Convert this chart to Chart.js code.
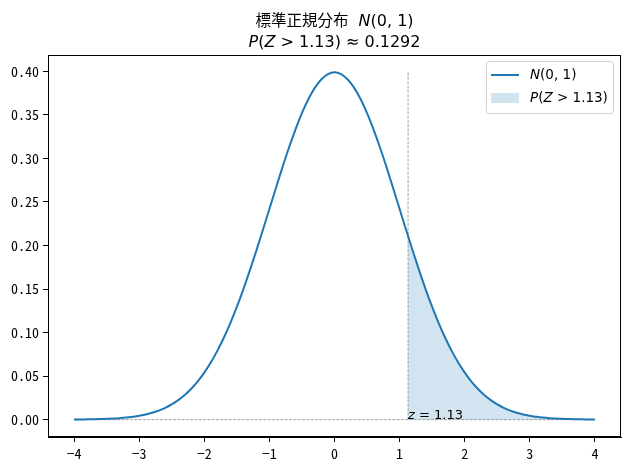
<!DOCTYPE html>
<html>
<head>
<meta charset="utf-8">
<script src="https://cdn.jsdelivr.net/npm/chart.js@4"></script>
<style>
  html, body { margin: 0; padding: 0; background: #fff; }
  #wrap { width: 630px; height: 470px; }
</style>
</head>
<body>
<div id="wrap"><canvas id="c" width="630" height="470"></canvas></div>
<script>
// standard normal pdf (0.1 steps)
const curveX = [-4, -3.9, -3.8, -3.7, -3.6, -3.5, -3.4, -3.3, -3.2, -3.1,
  -3, -2.9, -2.8, -2.7, -2.6, -2.5, -2.4, -2.3, -2.2, -2.1,
  -2, -1.9, -1.8, -1.7, -1.6, -1.5, -1.4, -1.3, -1.2, -1.1,
  -1, -0.9, -0.8, -0.7, -0.6, -0.5, -0.4, -0.3, -0.2, -0.1,
  0, 0.1, 0.2, 0.3, 0.4, 0.5, 0.6, 0.7, 0.8, 0.9,
  1, 1.1, 1.2, 1.3, 1.4, 1.5, 1.6, 1.7, 1.8, 1.9,
  2, 2.1, 2.2, 2.3, 2.4, 2.5, 2.6, 2.7, 2.8, 2.9,
  3, 3.1, 3.2, 3.3, 3.4, 3.5, 3.6, 3.7, 3.8, 3.9, 4];
const curveY = [0.0001, 0.0002, 0.0003, 0.0004, 0.0006, 0.0009, 0.0012, 0.0017, 0.0024, 0.0033,
  0.0044, 0.0060, 0.0079, 0.0104, 0.0136, 0.0175, 0.0224, 0.0283, 0.0355, 0.0440,
  0.0540, 0.0656, 0.0790, 0.0940, 0.1109, 0.1295, 0.1497, 0.1714, 0.1942, 0.2179,
  0.2420, 0.2661, 0.2897, 0.3123, 0.3332, 0.3521, 0.3683, 0.3814, 0.3910, 0.3970,
  0.3989, 0.3970, 0.3910, 0.3814, 0.3683, 0.3521, 0.3332, 0.3123, 0.2897, 0.2661,
  0.2420, 0.2179, 0.1942, 0.1714, 0.1497, 0.1295, 0.1109, 0.0940, 0.0790, 0.0656,
  0.0540, 0.0440, 0.0355, 0.0283, 0.0224, 0.0175, 0.0136, 0.0104, 0.0079, 0.0060,
  0.0044, 0.0033, 0.0024, 0.0017, 0.0012, 0.0009, 0.0006, 0.0004, 0.0003, 0.0002, 0.0001];

// shaded tail Z > 1.13
const zCut = 1.13;
const tailX = [1.13, 1.2, 1.3, 1.4, 1.5, 1.6, 1.7, 1.8, 1.9,
  2, 2.1, 2.2, 2.3, 2.4, 2.5, 2.6, 2.7, 2.8, 2.9,
  3, 3.1, 3.2, 3.3, 3.4, 3.5, 3.6, 3.7, 3.8, 3.9, 4];
const tailY = [0.2107, 0.1942, 0.1714, 0.1497, 0.1295, 0.1109, 0.0940, 0.0790, 0.0656,
  0.0540, 0.0440, 0.0355, 0.0283, 0.0224, 0.0175, 0.0136, 0.0104, 0.0079, 0.0060,
  0.0044, 0.0033, 0.0024, 0.0017, 0.0012, 0.0009, 0.0006, 0.0004, 0.0003, 0.0002, 0.0001];
const tailProb = '0.1292';

const xTicks = [-4, -3, -2, -1, 0, 1, 2, 3, 4];
const yTicks = [0, 0.05, 0.10, 0.15, 0.20, 0.25, 0.30, 0.35, 0.40];
const vlineTop = 0.40;

const blue = '#1f77b4';
const tickFont = "'Noto Sans Mono CJK JP', 'DejaVu Sans Mono', monospace";
const mathFont = "'DejaVu Sans', sans-serif";
const cjkFont = "'Noto Sans CJK JP', sans-serif";

const pts = (xs, ys) => xs.map((x, i) => ({x: x, y: ys[i]}));

// draw a run of [text, font] parts
function drawParts(ctx, parts, x, y, align) {
  let total = 0;
  parts.forEach(p => { ctx.font = p[1]; total += ctx.measureText(p[0]).width; });
  let cx = align === 'center' ? x - total / 2 : x;
  ctx.textAlign = 'left';
  parts.forEach(p => {
    ctx.font = p[1];
    ctx.fillText(p[0], cx, y);
    cx += ctx.measureText(p[0]).width;
  });
}

const decor = {
  id: 'decor',
  afterDraw(chart) {
    const ctx = chart.ctx;
    const a = chart.chartArea;
    const xs = chart.scales.x, ys = chart.scales.y;
    ctx.save();
    ctx.strokeStyle = '#000';
    ctx.lineWidth = 1;
    ctx.strokeRect(a.left + 0.5, a.top + 0.5, a.right - a.left - 1, a.bottom - a.top - 1);

    ctx.fillStyle = '#000';
    ctx.textBaseline = 'alphabetic';
    const mid = (a.left + a.right) / 2;
    drawParts(ctx, [['標準正規分布', '15.5px ' + cjkFont], ['  ', '16px ' + mathFont],
      ['N', 'italic 16px ' + mathFont], ['(0, 1)', '16px ' + mathFont]], mid, 26, 'center');
    drawParts(ctx, [['P', 'italic 16px ' + mathFont], ['(', '16px ' + mathFont], ['Z', 'italic 16px ' + mathFont],
      [' > ' + zCut + ') ≈ ' + tailProb, '16px ' + mathFont]], mid, 47, 'center');

    // label at the cut
    const zx = xs.getPixelForValue(zCut), zy = ys.getPixelForValue(0);
    drawParts(ctx, [['z', 'italic 13px ' + mathFont], [' = ' + zCut, '13px ' + mathFont]], zx, zy - 1, 'left');

    // legend
    const lx = 486, ly = 61, lw = 127, lh = 52;
    ctx.beginPath();
    ctx.roundRect(lx + 0.5, ly + 0.5, lw, lh, 3);
    ctx.fillStyle = 'rgba(255,255,255,0.8)';
    ctx.fill();
    ctx.strokeStyle = '#d0d0d0';
    ctx.stroke();
    ctx.strokeStyle = blue;
    ctx.lineWidth = 2;
    ctx.beginPath();
    ctx.moveTo(491, 75); ctx.lineTo(519, 75);
    ctx.stroke();
    ctx.fillStyle = 'rgba(31,119,180,0.2)';
    ctx.fillRect(491, 93, 28, 10);
    ctx.fillStyle = '#000';
    ctx.textBaseline = 'middle';
    drawParts(ctx, [['N', 'italic 13.5px ' + mathFont], ['(0, 1)', '13.5px ' + mathFont]], 530, 75, 'left');
    drawParts(ctx, [['P', 'italic 13.5px ' + mathFont], ['(', '13.5px ' + mathFont], ['Z', 'italic 13.5px ' + mathFont],
      [' > ' + zCut + ')', '13.5px ' + mathFont]], 530, 98, 'left');
    ctx.restore();
  }
};

new Chart(document.getElementById('c'), {
  type: 'scatter',
  data: {
    datasets: [
      {
        data: pts(tailX, tailY), showLine: true, fill: 'origin',
        backgroundColor: 'rgba(31,119,180,0.2)', borderWidth: 0, pointRadius: 0,
        cubicInterpolationMode: 'monotone', order: 3
      },
      {
        data: [{x: curveX[0], y: 0}, {x: curveX[curveX.length - 1], y: 0}], showLine: true,
        borderColor: '#8a8a8a', borderWidth: 0.8, borderDash: [3, 1.3], pointRadius: 0, order: 2
      },
      {
        data: [{x: zCut, y: 0}, {x: zCut, y: vlineTop}], showLine: true,
        borderColor: '#8a8a8a', borderWidth: 0.8, borderDash: [3, 1.3], pointRadius: 0, order: 2
      },
      {
        data: pts(curveX, curveY), showLine: true, borderColor: blue, borderWidth: 2,
        pointRadius: 0, cubicInterpolationMode: 'monotone', order: 1
      }
    ]
  },
  options: {
    responsive: false,
    animation: false,
    layout: { padding: { top: 55, right: 9, left: 0, bottom: 0 } },
    plugins: { legend: { display: false }, title: { display: false }, tooltip: { enabled: false } },
    scales: {
      x: {
        type: 'linear', min: -4.4, max: 4.4,
        afterFit: s => { s.height = 33; },
        afterBuildTicks: s => { s.ticks = xTicks.map(v => ({value: v})); },
        grid: { drawOnChartArea: false, tickLength: 5, tickColor: '#000' },
        border: { color: '#000' },
        ticks: {
          color: '#000', padding: 3, maxRotation: 0, autoSkip: false,
          font: { family: tickFont, size: 14 },
          callback: v => String(v).replace('-', '\u2212')
        }
      },
      y: {
        min: -0.01995, max: 0.41884,
        afterFit: s => { s.width = 48; },
        afterBuildTicks: s => { s.ticks = yTicks.map(v => ({value: v})); },
        grid: { drawOnChartArea: false, tickLength: 5, tickColor: '#000' },
        border: { color: '#000' },
        ticks: {
          color: '#000', padding: 4, autoSkip: false,
          font: { family: tickFont, size: 14 },
          callback: v => v.toFixed(2)
        }
      }
    }
  },
  plugins: [decor]
});
</script>
</body>
</html>
